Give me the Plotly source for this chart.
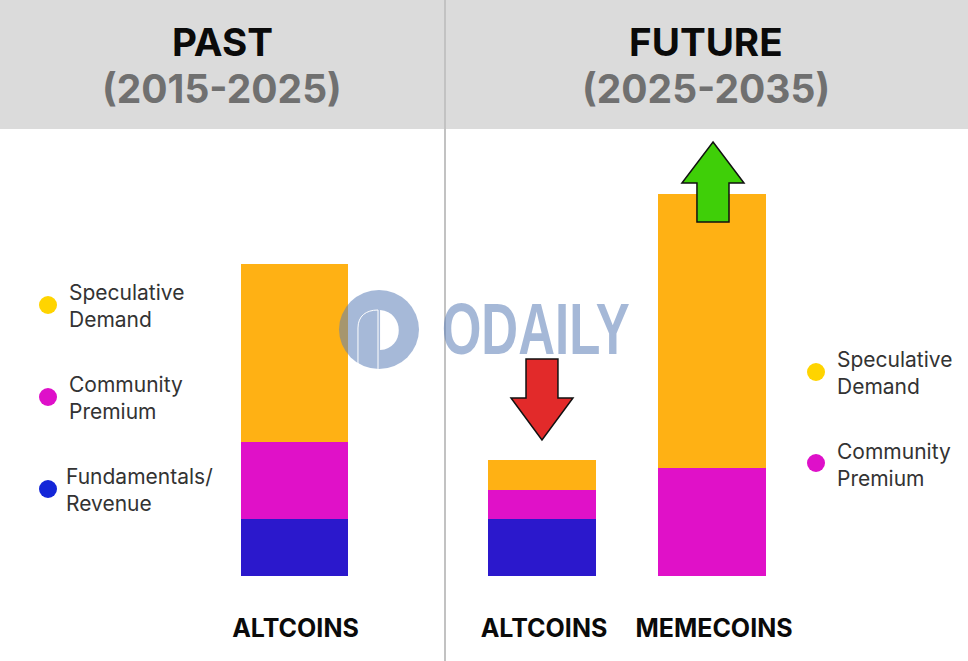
import plotly.graph_objects as go

W, H = 968, 661

# ---------- Data ----------
past_cats = ["ALTCOINS"]
future_cats = ["ALTCOINS", "MEMECOINS"]

past_fundamentals = [57]
past_community = [77]
past_speculative = [178]

future_fundamentals = [57, 0]
future_community = [29, 108]
future_speculative = [30, 274]

left_legend = ["Speculative<br>Demand", "Community<br>Premium", "Fundamentals/<br>Revenue"]
right_legend = ["Speculative<br>Demand", "Community<br>Premium"]

ORANGE = "#FFB114"
MAGENTA = "#E011C8"
BLUE = "#2B18CC"
FONT = "Inter"


def px(x):
    return x / W


def py(y):
    return 1 - y / H


def poly(points, fill):
    path = "M " + " L ".join(f"{px(x):.4f},{py(y):.4f}" for x, y in points) + " Z"
    return dict(type="path", xref="paper", yref="paper", path=path, fillcolor=fill,
                line=dict(color="#111111", width=1.5))


def dot(x, y, color):
    return dict(type="circle", xref="paper", yref="paper", x0=px(x - 9), x1=px(x + 9),
                y0=py(y + 9), y1=py(y - 9), fillcolor=color, line_width=0)


fig = go.Figure()

for vals, color in [(past_fundamentals, BLUE), (past_community, MAGENTA), (past_speculative, ORANGE)]:
    fig.add_trace(go.Bar(x=past_cats, y=vals, marker=dict(color=color, line_width=0),
                         xaxis="x", yaxis="y", showlegend=False))

for vals, color in [(future_fundamentals, BLUE), (future_community, MAGENTA), (future_speculative, ORANGE)]:
    fig.add_trace(go.Bar(x=future_cats, y=vals, marker=dict(color=color, line_width=0),
                         xaxis="x2", yaxis="y2", showlegend=False))

# ---------- Shapes ----------
shapes = [
    dict(type="rect", xref="paper", yref="paper", x0=0, x1=1, y0=py(129), y1=1,
         fillcolor="#DBDBDB", line_width=0, layer="below"),
    dict(type="line", xref="paper", yref="paper", x0=px(445), x1=px(445), y0=0, y1=1,
         line=dict(color="#C2C2C2", width=2)),
    # arrows
    poly([(713, 142), (744, 183), (729, 183), (729, 222), (697, 222), (697, 183), (682, 183)], "#3FCF08"),
    poly([(526, 359), (558, 359), (558, 398), (573, 398), (542, 440), (511, 398), (526, 398)], "#E22A2A"),
    # watermark
    dict(type="circle", xref="paper", yref="paper", x0=px(339), x1=px(419), y0=py(369), y1=py(290),
         fillcolor="#5D7FB8", opacity=0.55, line_width=0),
    dict(type="path", xref="paper", yref="paper", fillcolor="white", line_width=0,
         path=f"M {px(380):.4f},{py(310):.4f} C {px(405):.4f},{py(312):.4f} {px(405):.4f},{py(349):.4f} {px(380):.4f},{py(350):.4f} Z"),
    dict(type="path", xref="paper", yref="paper", line=dict(color="white", width=1),
         path=f"M {px(358):.4f},{py(364):.4f} L {px(358):.4f},{py(328):.4f} C {px(358):.4f},{py(316):.4f} {px(366):.4f},{py(310):.4f} {px(378):.4f},{py(310):.4f} L {px(378):.4f},{py(369):.4f}"),
]

for y, color in [(305, "#FFD400"), (397, "#DE10C9"), (489, "#1426D8")]:
    shapes.append(dot(48, y, color))
for y, color in [(372, "#FFD400"), (463, "#DE10C9")]:
    shapes.append(dot(816, y, color))

# ---------- Text ----------
annotations = []


def add_text(x, y, text, size, color, bold=False, align="center", font=FONT, opacity=1):
    annotations.append(dict(
        xref="paper", yref="paper", x=px(x), y=py(y), text=f"<b>{text}</b>" if bold else text,
        showarrow=False, xanchor=align, yanchor="middle", align=align, opacity=opacity,
        font=dict(family=font, size=size, color=color),
    ))


add_text(222, 42, "PAST", 38.6, "#0A0A0A", bold=True)
add_text(222, 89, "(2015-2025)", 39, "#707070", bold=True)
add_text(706, 42, "FUTURE", 38.6, "#0A0A0A", bold=True)
add_text(706, 89, "(2025-2035)", 39, "#707070", bold=True)

for label, x, y in zip(left_legend, [67, 67, 64], [306, 398, 490]):
    add_text(x, y, label, 21, "#333333", align="left")
for label, x, y in zip(right_legend, [835, 835], [373, 465]):
    add_text(x, y, label, 21, "#333333", align="left")

add_text(535, 329, "ODAILY", 72, "#5D7FB8", bold=True, font="Liberation Sans", opacity=0.55)

# ---------- Layout ----------
axis_x = dict(type="category", showgrid=False, zeroline=False, showline=False, ticks="outside",
              ticklen=30, tickcolor="rgba(0,0,0,0)", tickangle=0,
              tickfont=dict(family=FONT, size=25, color="#0A0A0A", weight="bold"))
axis_y = dict(range=[0, 576], domain=[1 - 576 / H, 1], visible=False, fixedrange=True)

fig.update_layout(
    width=W, height=H, margin=dict(l=0, r=0, t=0, b=0),
    paper_bgcolor="white", plot_bgcolor="rgba(0,0,0,0)",
    barmode="stack", bargap=0.365,
    xaxis=dict(axis_x, domain=[px(209.5), px(379.5)], range=[-0.5, 0.5], ticklabelshift=1),
    yaxis=dict(axis_y, anchor="x"),
    xaxis2=dict(axis_x, domain=[px(457), px(797)], range=[-0.5, 1.5], anchor="y2", ticklabelshift=2),
    yaxis2=dict(axis_y, anchor="x2"),
    shapes=shapes, annotations=annotations,
)

# squeeze the watermark word to its narrow width
squeeze = """
document.body.style.margin='0';
document.querySelectorAll('.annotation-text').forEach(function (t) {
  if (t.textContent === 'ODAILY') {
    t.setAttribute('textLength', '188');
    t.setAttribute('lengthAdjust', 'spacingAndGlyphs');
  }
});
"""

fig.write_html("out.html", config=dict(displayModeBar=False), post_script=squeeze)
